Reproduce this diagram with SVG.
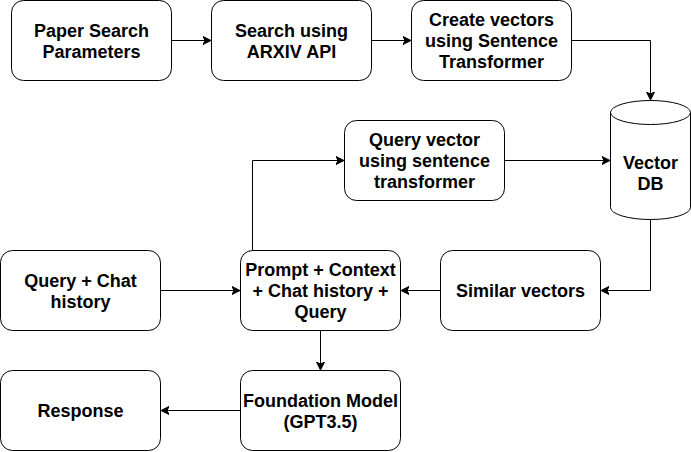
<svg xmlns="http://www.w3.org/2000/svg" width="691" height="452" viewBox="0 0 691 452">
<style>
.box{fill:#fff;stroke:#000;stroke-width:1}
.lbl{font-family:"Liberation Sans",Arial,Helvetica,sans-serif;font-weight:bold;font-size:18px;fill:#000;text-anchor:middle}
.edge{fill:none;stroke:#000;stroke-width:1;marker-end:url(#arr)}
</style>
<defs>
<marker id="arr" markerUnits="userSpaceOnUse" markerWidth="10" markerHeight="10" refX="8" refY="4" orient="auto" viewBox="0 0 10 8">
<path d="M0,0 L8,4 L0,8 L2,4 Z" fill="#000" stroke="#000" stroke-width="1"/>
</marker>
</defs>
<rect width="691" height="452" fill="#fff"/>
<g id="connectors">
<path class="edge" d="M171.5,40.5 H211"/>
<path class="edge" d="M371.5,40.5 H411"/>
<path class="edge" d="M571.5,40.5 H650.5 V100"/>
<path class="edge" d="M504.5,160.5 H610"/>
<path class="edge" d="M650.5,219.5 V290.5 H601"/>
<path class="edge" d="M440.5,290.5 H401"/>
<path class="edge" d="M160.5,290.5 H240"/>
<path class="edge" d="M252.5,250.5 V160.5 H344"/>
<path class="edge" d="M320.5,330.5 V370"/>
<path class="edge" d="M240.5,410.5 H161"/>
</g>
<g id="paper-search">
<rect class="box" x="11.5" y="0.5" width="160" height="80" rx="12"/>
<text class="lbl" x="91.5" y="37">Paper Search</text>
<text class="lbl" x="91.5" y="58">Parameters</text>
</g>
<g id="arxiv-search">
<rect class="box" x="211.5" y="0.5" width="160" height="80" rx="12"/>
<text class="lbl" x="291.5" y="37">Search using</text>
<text class="lbl" x="291.5" y="58">ARXIV API</text>
</g>
<g id="create-vectors">
<rect class="box" x="411.5" y="0.5" width="160" height="80" rx="12"/>
<text class="lbl" x="491.5" y="26">Create vectors</text>
<text class="lbl" x="491.5" y="47">using Sentence</text>
<text class="lbl" x="491.5" y="68">Transformer</text>
</g>
<g id="vector-db">
<path class="box" d="M610.5,112.5 A40,12 0 0 1 690.5,112.5 V207.5 A40,12 0 0 1 610.5,207.5 Z"/>
<path fill="none" stroke="#000" d="M610.5,112.5 A40,12 0 0 0 690.5,112.5"/>
<text class="lbl" x="650.5" y="169">Vector</text>
<text class="lbl" x="650.5" y="190">DB</text>
</g>
<g id="query-vector">
<rect class="box" x="344.5" y="120.5" width="160" height="80" rx="12"/>
<text class="lbl" x="424.5" y="146">Query vector</text>
<text class="lbl" x="424.5" y="167">using sentence</text>
<text class="lbl" x="424.5" y="188">transformer</text>
</g>
<g id="query-chat">
<rect class="box" x="0.5" y="250.5" width="160" height="80" rx="12"/>
<text class="lbl" x="80.5" y="287">Query + Chat</text>
<text class="lbl" x="80.5" y="308">history</text>
</g>
<g id="prompt">
<rect class="box" x="240.5" y="250.5" width="160" height="80" rx="12"/>
<text class="lbl" x="320.5" y="275.5">Prompt + Context</text>
<text class="lbl" x="320.5" y="296.5">+ Chat history +</text>
<text class="lbl" x="320.5" y="317.5">Query</text>
</g>
<g id="similar-vectors">
<rect class="box" x="440.5" y="250.5" width="160" height="80" rx="12"/>
<text class="lbl" x="520.5" y="297">Similar vectors</text>
</g>
<g id="foundation-model">
<rect class="box" x="240.5" y="370.5" width="160" height="80" rx="12"/>
<text class="lbl" x="320.5" y="407">Foundation Model</text>
<text class="lbl" x="320.5" y="428">(GPT3.5)</text>
</g>
<g id="response">
<rect class="box" x="0.5" y="370.5" width="160" height="80" rx="12"/>
<text class="lbl" x="80.5" y="417">Response</text>
</g>
</svg>
